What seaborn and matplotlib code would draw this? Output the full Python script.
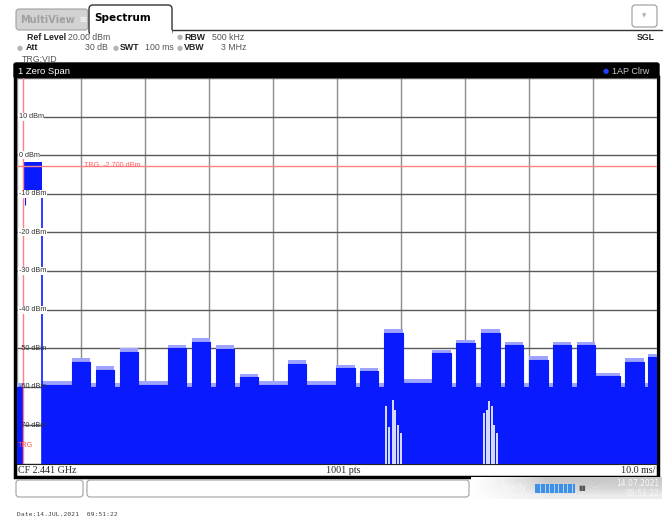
import numpy as np
import pandas as pd
import seaborn as sns
import matplotlib.pyplot as plt
from matplotlib.patches import Rectangle, FancyBboxPatch

# zero span trace: step start (ms) and level (dBm)
seg_start = [3.9, 8.6, 11.4, 12.3, 15.2, 16.1, 18.9, 23.6, 26.4, 27.3,
             30.2, 31.1, 33.9, 34.8, 37.7, 42.3, 45.2, 49.8, 52.8, 53.6,
             56.4, 57.3, 60.3, 64.8, 67.8, 68.6, 71.6, 72.5, 75.5, 76.3,
             79.1, 80.0, 83.0, 83.8, 86.6, 87.5, 90.3, 94.2, 95.0, 98.0,
             98.6]
seg_level = [-59.5, -53.5, -60, -55.6, -60, -50.9, -59.5, -50, -60, -48.3,
             -60, -50.2, -60, -57.5, -59.5, -54, -59.5, -55.2, -60, -56,
             -60, -46, -59, -51.3, -60, -48.7, -60, -46, -60, -49.2,
             -60, -53, -60, -49.2, -60, -49.2, -57.2, -60, -53.5, -60,
             -52.3]
pre_level = -60
trg_time = 0.94
trg_level = -2.7
burst_start, burst_end = 1.1, 3.9
burst_top, burst_bottom = -1.8, -11.0
# white streaks at the bottom of two bursts
gap_time = [57.7, 58.2, 58.7, 59.1, 59.6, 60.0, 72.9, 73.4, 73.8, 74.2, 74.5, 75.0]
gap_top = [-65, -70.3, -63.4, -66, -70, -72, -66.8, -66, -63.8, -65, -70, -72]
y_ticks = [10, 0, -10, -20, -30, -40, -50, -60, -70]
ref_level, bottom_level, sweep = 20, -80, 100

BLUE = '#0a1aff'
LIGHT = '#9ea3ff'
RED = '#ff8080'
NARROW = ['Liberation Sans Narrow', 'Liberation Sans']

sns.set_style("white")
plt.rcParams['font.family'] = ['DejaVu Sans']

fig = plt.figure(figsize=(6.69, 5.20), dpi=100)

# background axes in pixel units for the instrument chrome
bg = fig.add_axes([0, 0, 1, 1])
bg.set_xlim(0, 669)
bg.set_ylim(520, 0)
bg.axis('off')

# tabs
bg.add_patch(FancyBboxPatch((16, 9), 72, 21, boxstyle="round,pad=0,rounding_size=3",
                            fc='#d2d2d2', ec='#a0a0a0', lw=0.8))
bg.text(20, 20, 'MultiView', fontsize=7, weight='bold', color='#a0a0a0', va='center')
bg.text(79, 19.5, '\u229e', fontsize=6, color='white', va='center')
bg.add_patch(FancyBboxPatch((89, 5), 83, 30, boxstyle="round,pad=0,rounding_size=4",
                            fc='white', ec='#333333', lw=1))
bg.plot([172, 662], [30, 30], color='#333333', lw=1)
bg.add_patch(Rectangle((89.6, 30), 82, 6, fc='white', ec='none'))
bg.text(94, 18, 'Spectrum', fontsize=7.5, weight='bold', color='black', va='center')
bg.add_patch(FancyBboxPatch((632, 5), 25, 22, boxstyle="round,pad=0,rounding_size=3",
                            fc='white', ec='#9a9a9a', lw=0.8))
bg.text(644.5, 16, '\u25bc', fontsize=4, color='#b0b0b0', ha='center', va='center')

# settings header
def info(x, y, s, bold=False, ha='left', color='#333333', size=6.3):
    bg.text(x, y, s, fontsize=size, weight='bold' if bold else 'normal',
            color=color, ha=ha, va='center', family=NARROW)

def dot(x, y):
    bg.text(x, y, '\u25cf', fontsize=5, color='#b4b4b4', ha='left', va='center')

info(27, 37, 'Ref Level', bold=True, color='#222222')
info(68, 37, '20.00 dBm', color='#555555')
dot(177, 37)
info(184, 37, 'RBW', bold=True, color='#222222')
info(212, 37, '500 kHz', color='#555555')
dot(17, 48)
info(26, 48, 'Att', bold=True, color='#222222')
info(108, 48, '30 dB', ha='right', color='#555555')
dot(113, 48)
info(120, 48, 'SWT', bold=True, color='#222222')
info(145, 48, '100 ms', color='#555555')
dot(177, 48)
info(184, 48, 'VBW', bold=True, color='#222222')
info(246, 48, '3 MHz', ha='right', color='#555555')
info(22, 59, 'TRG:VID', color='#555555')
info(637, 38, 'SGL', bold=True, color='#222222')

# black title bar and frame
bg.add_patch(FancyBboxPatch((14, 63), 645, 15, boxstyle="round,pad=0,rounding_size=2",
                            fc='black', ec='black'))
bg.text(18, 71, '1 Zero Span', fontsize=6.8, color='white', va='center', family='Liberation Sans')
bg.text(609, 71, '\u25cf', fontsize=5, color='#2040ff', va='center', ha='right')
bg.text(612, 71, '1AP Clrw', fontsize=6.5, color='#c8c8c8', va='center', family='Liberation Sans')
bg.add_patch(Rectangle((15, 77), 643, 400, fc='none', ec='black', lw=2.5))

# bottom labels
bg.text(18, 470.5, 'CF 2.441 GHz', fontsize=7.2, va='center', family='Liberation Serif')
bg.text(343, 470.5, '1001 pts', fontsize=7.2, va='center', ha='center', family='Liberation Serif')
bg.text(655, 470.5, '10.0 ms/', fontsize=7.2, va='center', ha='right', family='Liberation Serif')

# status bar
bg.add_patch(FancyBboxPatch((16, 480), 67, 17, boxstyle="round,pad=0,rounding_size=3",
                            fc='white', ec='#a0a0a0', lw=0.8))
bg.add_patch(FancyBboxPatch((87, 480), 382, 17, boxstyle="round,pad=0,rounding_size=3",
                            fc='white', ec='#a0a0a0', lw=0.8))
grad = np.clip(np.linspace(0.0, 2.5, 64), 0, 1).reshape(1, -1)
grad = np.vstack([grad * 0.32, grad * 0.27, grad * 0.15])
bg.imshow(grad, extent=(471, 662, 499, 477), cmap='Greys',
          vmin=0, vmax=1, aspect='auto', zorder=1, interpolation='bilinear')
bg.text(500, 488, 'Ready', fontsize=6, color='#f8f8f8', va='center', zorder=2)
bg.add_patch(Rectangle((535, 483.5), 40, 9, fc='#3d8fe8', ec='none', zorder=2))
for px in np.arange(540, 575, 4.5):
    bg.plot([px, px], [484, 492], color='#cfe3fa', lw=0.6, zorder=3)
bg.text(578, 488, '\u25ae\u25ae', fontsize=5, color='#555555', va='center', zorder=2)
bg.text(592, 488, '\u2500\u25cb', fontsize=5, color='#e0e0e0', va='center', zorder=2)
bg.text(659, 484, '14.07.2021', fontsize=5.5, color='#f8f8f8', ha='right', va='center', zorder=2)
bg.text(659, 493, '09:51:22', fontsize=5.5, color='#f5f5f5', ha='right', va='center', zorder=2)
bg.text(17, 515, 'Date:14.JUL.2021  09:51:22', fontsize=4.6, color='#444444',
        va='center', family='DejaVu Sans Mono')

# trace area
ax = fig.add_axes([17 / 669, 56 / 520, 640 / 669, 386 / 520])
ax.set_xlim(0, sweep)
ax.set_ylim(bottom_level, ref_level)
for v in np.arange(0, sweep + 1, 10):
    ax.axvline(v, color='#8c8c8c', lw=1, zorder=1)
for h in np.arange(bottom_level, ref_level + 1, 10):
    ax.axhline(h, color='#5a5a5a', lw=1, zorder=1)
ax.set_xticks([])
ax.set_yticks([])
for s in ax.spines.values():
    s.set_visible(False)
ax.spines['bottom'].set_visible(True)
ax.spines['bottom'].set_color('#202020')
ax.spines['bottom'].set_linewidth(0.8)

edges = [0, trg_time] + seg_start + [sweep]
levels = [pre_level, np.nan] + seg_level
x_step = np.repeat(edges, 2)[1:-1]
y_step = np.repeat(np.array(levels, dtype=float), 2)
ok = ~np.isnan(y_step)
ax.fill_between(x_step, bottom_level, y_step, where=ok, color=BLUE, lw=0, zorder=2)
ax.fill_between(x_step, y_step, y_step + 0.9, where=ok, color=LIGHT, lw=0, zorder=2)

trace = pd.DataFrame({'t': seg_start + [sweep], 'lvl': seg_level + [seg_level[-1]]})
sns.lineplot(data=trace, x='t', y='lvl', drawstyle='steps-post', estimator=None,
             sort=False, color=BLUE, lw=0.8, ax=ax, zorder=3)
ax.set_xlabel('')
ax.set_ylabel('')

# triggered burst
ax.fill_between([burst_start, burst_end], burst_bottom, burst_top, color=BLUE, lw=0, zorder=2)
ax.vlines(burst_end, bottom_level, burst_bottom, color=BLUE, lw=1.2, zorder=3)
ax.vlines(burst_start + 0.15, burst_bottom - 2, burst_top, color=BLUE, lw=0.8, zorder=3)

ax.vlines(gap_time, bottom_level, gap_top, color='white', lw=1.2, zorder=3)

# trigger lines
ax.axhline(trg_level, color=RED, lw=1, zorder=4)
ax.axvline(trg_time, color=RED, lw=1, zorder=4)
ax.text(10.5, trg_level, 'TRG  -2.700 dBm', color='#ff6060', fontsize=5.2,
        va='center', ha='left', zorder=5, family='Liberation Sans')
ax.text(0.2, -75.3, 'TRG', color='#ff5050', fontsize=5.2, va='center', zorder=5,
        family='Liberation Sans')

for yt in y_ticks:
    ax.text(0.3, yt, f'{yt} dBm', fontsize=5.2, color='#333333', va='center',
            ha='left', zorder=5, family='Liberation Sans',
            bbox=dict(fc='white', ec='none', pad=0.3) if yt > -50 else None)

fig.savefig('out.png', dpi=100)
